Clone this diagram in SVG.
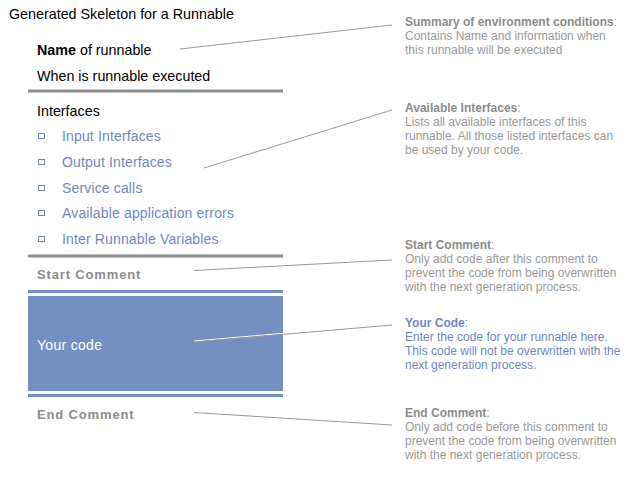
<svg xmlns="http://www.w3.org/2000/svg" width="641" height="483" viewBox="0 0 641 483">
<style>
text{font-family:"Liberation Sans",Arial,sans-serif;}
.t{font-size:14.3px;fill:#000;}
.li{font-size:14px;fill:#6f88bf;letter-spacing:0.15px;}
.cm{font-size:13px;fill:#8c8c8c;font-weight:bold;letter-spacing:0.85px;}
.d{font-size:12px;fill:#999;}
.db{font-size:12px;fill:#8c8c8c;font-weight:bold;}
.bl{fill:#6f88bf;}
.blb{font-size:12px;fill:#6f88bf;font-weight:bold;}
.bul{fill:none;stroke:#6f88bf;stroke-width:1;}
.con{stroke:#999;stroke-width:1;fill:none;}
</style>
<rect width="641" height="483" fill="#fff"/>
<g id="title"><text class="t" x="9" y="19">Generated Skeleton for a Runnable</text></g>
<g id="summary-box">
<text class="t" x="37" y="55"><tspan font-weight="bold">Name</tspan> of runnable</text>
<text class="t" x="37" y="81">When is runnable executed</text>
<rect x="28" y="89.5" width="255" height="3" fill="#8c8c8c"/>
</g>
<g id="interfaces-box">
<text class="t" x="37" y="116">Interfaces</text>
<rect class="bul" x="38.5" y="133.5" width="6" height="5"/>
<text class="li" x="62" y="141">Input Interfaces</text>
<rect class="bul" x="38.5" y="159.5" width="6" height="5"/>
<text class="li" x="62" y="167">Output Interfaces</text>
<rect class="bul" x="38.5" y="185.5" width="6" height="5"/>
<text class="li" x="62" y="193">Service calls</text>
<rect class="bul" x="38.5" y="210.5" width="6" height="5"/>
<text class="li" x="62" y="218">Available application errors</text>
<rect class="bul" x="38.5" y="236.5" width="6" height="5"/>
<text class="li" x="62" y="244">Inter Runnable Variables</text>
<rect x="28" y="254.5" width="255" height="3" fill="#8c8c8c"/>
</g>
<g id="start-comment">
<text class="cm" x="37" y="279">Start Comment</text>
<rect x="28" y="290" width="255" height="3" fill="#7490c0"/>
</g>
<g id="your-code">
<rect x="28" y="296" width="255" height="95" fill="#7490c0"/>
<text x="37" y="349.5" style="font-size:14px;fill:#fff;letter-spacing:0.3px">Your code</text>
<rect x="28" y="394" width="255" height="3" fill="#7490c0"/>
</g>
<g id="end-comment">
<text class="cm" x="37" y="419">End Comment</text>
</g>
<g id="connectors">
<line class="con" x1="180" y1="49" x2="392" y2="25"/>
<line class="con" x1="204" y1="168" x2="392" y2="110"/>
<line class="con" x1="194" y1="270.5" x2="392" y2="260"/>
<line x1="194" y1="341" x2="392" y2="324" stroke="#fff" stroke-width="1"/>
<line class="con" x1="194" y1="342" x2="392" y2="325"/>
<line class="con" x1="194" y1="412.5" x2="392" y2="425"/>
</g>
<g id="note-summary">
<text class="d" x="405" y="26"><tspan class="db">Summary of environment conditions</tspan>:</text>
<text class="d" x="405" y="40">Contains Name and information when</text>
<text class="d" x="405" y="54">this runnable will be executed</text>
</g>
<g id="note-interfaces">
<text class="d" x="405" y="112"><tspan class="db">Available Interfaces</tspan>:</text>
<text class="d" x="405" y="126">Lists all available interfaces of this</text>
<text class="d" x="405" y="140">runnable. All those listed interfaces can</text>
<text class="d" x="405" y="154">be used by your code.</text>
</g>
<g id="note-start">
<text class="d" x="405" y="249"><tspan class="db">Start Comment</tspan>:</text>
<text class="d" x="405" y="263">Only add code after this comment to</text>
<text class="d" x="405" y="277">prevent the code from being overwritten</text>
<text class="d" x="405" y="291">with the next generation process.</text>
</g>
<g id="note-code">
<text class="d bl" x="405" y="327"><tspan class="blb">Your Code</tspan>:</text>
<text class="d bl" x="405" y="341">Enter the code for your runnable here.</text>
<text class="d bl" x="405" y="355">This code will not be overwritten with the</text>
<text class="d bl" x="405" y="369">next generation process.</text>
</g>
<g id="note-end">
<text class="d" x="405" y="417"><tspan class="db">End Comment</tspan>:</text>
<text class="d" x="405" y="431">Only add code before this comment to</text>
<text class="d" x="405" y="445">prevent the code from being overwritten</text>
<text class="d" x="405" y="459">with the next generation process.</text>
</g>
</svg>
